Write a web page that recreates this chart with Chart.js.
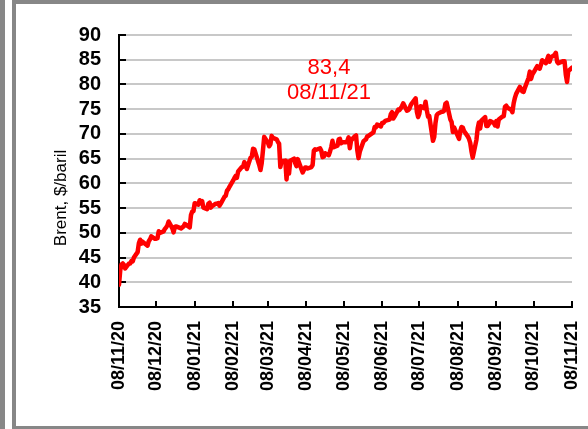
<!DOCTYPE html>
<html>
<head>
<meta charset="utf-8">
<script src="https://cdn.jsdelivr.net/npm/chart.js@4.4.0/dist/chart.umd.min.js"></script>
<style>
    html, body { margin: 0; padding: 0; background: #fff; }
    #wrap { position: relative; width: 588px; height: 429px; overflow: hidden; }
    .bar { position: absolute; background: #878787; }
    #brentCanvas { position: absolute; left: 0; top: 0; }
</style>
</head>
<body>
<div id="wrap">
    <div class="bar" style="left:0;top:0;width:5px;height:429px"></div>
    <div class="bar" style="left:12px;top:0;width:4px;height:429px"></div>
    <div class="bar" style="left:12px;top:0;width:576px;height:4px"></div>
    <div class="bar" style="left:12px;top:426px;width:576px;height:3px"></div>
    <canvas id="brentCanvas" width="588" height="429"></canvas>
</div>
<script>
// Brent daily close, $/baril
const tickLabels = ['08/11/20', '08/12/20', '08/01/21', '08/02/21', '08/03/21', '08/04/21', '08/05/21',
    '08/06/21', '08/07/21', '08/08/21', '08/09/21', '08/10/21', '08/11/21'];

const dates = [
    '08/11/20', '09/11/20', '10/11/20', '11/11/20', '12/11/20', '13/11/20', '16/11/20', '17/11/20', '18/11/20', '19/11/20',
    '20/11/20', '23/11/20', '24/11/20', '25/11/20', '26/11/20', '27/11/20', '30/11/20',
    '01/12/20', '02/12/20', '03/12/20', '04/12/20', '07/12/20', '08/12/20', '09/12/20', '10/12/20', '11/12/20', '14/12/20',
    '15/12/20', '16/12/20', '17/12/20', '18/12/20', '21/12/20', '22/12/20', '23/12/20', '24/12/20', '28/12/20', '29/12/20',
    '30/12/20', '31/12/20',
    '04/01/21', '05/01/21', '06/01/21', '07/01/21', '08/01/21', '11/01/21', '12/01/21', '13/01/21', '14/01/21', '15/01/21',
    '18/01/21', '19/01/21', '20/01/21', '21/01/21', '22/01/21', '25/01/21', '26/01/21', '27/01/21', '28/01/21', '29/01/21',
    '01/02/21', '02/02/21', '03/02/21', '04/02/21', '05/02/21', '08/02/21', '09/02/21', '10/02/21', '11/02/21', '12/02/21',
    '15/02/21', '16/02/21', '17/02/21', '18/02/21', '19/02/21', '22/02/21', '23/02/21', '24/02/21', '25/02/21', '26/02/21',
    '01/03/21', '02/03/21', '03/03/21', '04/03/21', '05/03/21', '08/03/21', '09/03/21', '10/03/21', '11/03/21', '12/03/21',
    '15/03/21', '16/03/21', '17/03/21', '18/03/21', '19/03/21', '22/03/21', '23/03/21', '24/03/21', '25/03/21', '26/03/21',
    '29/03/21', '30/03/21', '31/03/21',
    '01/04/21', '05/04/21', '06/04/21', '07/04/21', '08/04/21', '09/04/21', '12/04/21', '13/04/21', '14/04/21', '15/04/21',
    '16/04/21', '19/04/21', '20/04/21', '21/04/21', '22/04/21', '23/04/21', '26/04/21', '27/04/21', '28/04/21', '29/04/21',
    '30/04/21',
    '03/05/21', '04/05/21', '05/05/21', '06/05/21', '07/05/21', '10/05/21', '11/05/21', '12/05/21', '13/05/21', '14/05/21',
    '17/05/21', '18/05/21', '19/05/21', '20/05/21', '21/05/21', '24/05/21', '25/05/21', '26/05/21', '27/05/21', '28/05/21',
    '01/06/21', '02/06/21', '03/06/21', '04/06/21', '07/06/21', '08/06/21', '09/06/21', '10/06/21', '11/06/21', '14/06/21',
    '15/06/21', '16/06/21', '17/06/21', '18/06/21', '21/06/21', '22/06/21', '23/06/21', '24/06/21', '25/06/21', '28/06/21',
    '29/06/21', '30/06/21',
    '01/07/21', '02/07/21', '05/07/21', '06/07/21', '07/07/21', '08/07/21', '09/07/21', '12/07/21', '13/07/21', '14/07/21',
    '15/07/21', '16/07/21', '19/07/21', '20/07/21', '21/07/21', '22/07/21', '23/07/21', '26/07/21', '27/07/21', '28/07/21',
    '29/07/21', '30/07/21',
    '02/08/21', '03/08/21', '04/08/21', '05/08/21', '06/08/21', '09/08/21', '10/08/21', '11/08/21', '12/08/21', '13/08/21',
    '16/08/21', '17/08/21', '18/08/21', '19/08/21', '20/08/21', '23/08/21', '24/08/21', '25/08/21', '26/08/21', '27/08/21',
    '30/08/21', '31/08/21',
    '01/09/21', '02/09/21', '03/09/21', '06/09/21', '07/09/21', '08/09/21', '09/09/21', '10/09/21', '13/09/21', '14/09/21',
    '15/09/21', '16/09/21', '17/09/21', '20/09/21', '21/09/21', '22/09/21', '23/09/21', '24/09/21', '27/09/21', '28/09/21',
    '29/09/21', '30/09/21',
    '01/10/21', '04/10/21', '05/10/21', '06/10/21', '07/10/21', '08/10/21', '11/10/21', '12/10/21', '13/10/21', '14/10/21',
    '15/10/21', '18/10/21', '19/10/21', '20/10/21', '21/10/21', '22/10/21', '25/10/21', '26/10/21', '27/10/21', '28/10/21',
    '29/10/21',
    '01/11/21', '02/11/21', '03/11/21', '04/11/21', '05/11/21', '08/11/21'
];

const brent = [
    39.5, 42.4, 43.6, 43.8, 43.5, 42.8, 43.8, 43.8, 44.3, 44.2,
    45.0, 46.1, 47.9, 48.6, 47.8, 48.2, 47.6,
    47.4, 48.3, 48.7, 49.3, 48.8, 48.8, 48.9, 50.3, 50.0, 50.3,
    50.8, 51.1, 51.5, 52.3, 50.9, 50.1, 51.2, 51.3, 50.9, 51.1,
    51.3, 51.8,
    51.1, 53.6, 54.3, 54.4, 56.0, 55.7, 56.6, 56.1, 56.4, 55.1,
    54.8, 55.9, 56.1, 55.1, 55.4, 55.9, 55.9, 56.0, 55.5, 55.9,
    57.3, 57.5, 58.5, 58.8, 59.3, 60.6, 61.1, 61.5, 61.1, 62.4,
    63.3, 63.4, 64.3, 63.9, 62.9, 65.2, 65.4, 67.0, 66.9, 66.1,
    63.7, 62.7, 64.1, 66.7, 69.4, 68.2, 67.5, 67.9, 69.6, 69.2,
    68.9, 68.4, 68.0, 63.3, 64.5, 64.6, 60.8, 64.4, 62.0, 64.6,
    65.0, 64.1, 63.5,
    64.9, 62.2, 62.7, 63.2, 63.2, 63.0, 63.3, 63.7, 66.6, 66.9,
    66.8, 67.1, 66.6, 65.3, 65.4, 66.1, 65.7, 66.4, 67.3, 68.6,
    67.3,
    67.6, 68.9, 69.0, 68.1, 68.3, 68.3, 68.6, 69.3, 67.1, 68.7,
    69.5, 69.7, 66.7, 65.1, 66.4, 68.5, 68.7, 68.9, 69.5, 69.6,
    70.3, 71.4, 71.3, 71.9, 71.5, 72.2, 72.2, 72.5, 72.7, 72.9,
    74.0, 74.4, 73.1, 73.5, 74.9, 74.8, 75.2, 75.6, 76.2, 74.7,
    74.8, 75.1,
    75.8, 76.2, 77.2, 74.5, 73.4, 74.1, 75.6, 75.2, 76.5, 74.8,
    73.5, 73.6, 68.6, 69.4, 72.2, 73.8, 74.1, 74.5, 74.5, 74.7,
    76.1, 76.3,
    72.9, 72.4, 70.4, 71.3, 70.7, 69.0, 70.6, 71.4, 71.3, 70.6,
    69.5, 69.0, 68.2, 66.5, 65.2, 68.8, 71.1, 72.3, 71.1, 72.7,
    73.4, 71.6,
    71.6, 72.0, 72.6, 72.2, 71.7, 72.6, 71.5, 72.9, 73.5, 73.6,
    75.5, 75.7, 75.3, 74.9, 74.4, 76.2, 77.3, 78.1, 79.5, 79.1,
    78.6, 78.5,
    79.3, 81.3, 82.6, 81.1, 82.0, 82.4, 83.7, 83.4, 83.2, 84.0,
    84.9, 84.3, 85.1, 85.8, 84.6, 85.5, 86.0, 86.4, 84.6, 84.3,
    84.4,
    84.7, 84.7, 82.0, 80.5, 82.7, 83.4
];

const yTicks = [35, 40, 45, 50, 55, 60, 65, 70, 75, 80, 85, 90];

const FONT = "'Liberation Sans', Arial, sans-serif";

// days since the first tick label
const toDay = (s) => {
    const [d, m, y] = s.split('/').map(Number);
    const [d0, m0, y0] = tickLabels[0].split('/').map(Number);
    return Math.round((Date.UTC(2000 + y, m - 1, d) - Date.UTC(2000 + y0, m0 - 1, d0)) / 86400000);
};

const tickDays = tickLabels.map(toDay);

// inner tick marks, drawn under the line
const innerTicks = {
    id: 'innerTicks',
    beforeDatasetsDraw: (chart) => {
        const { ctx, chartArea, scales } = chart;
        ctx.save();
        ctx.strokeStyle = '#000';
        ctx.lineWidth = 2;
        ctx.beginPath();
        yTicks.forEach(v => {
            const y = Math.round(scales.y.getPixelForValue(v));
            ctx.moveTo(chartArea.left, y);
            ctx.lineTo(chartArea.left + 7, y);
        });
        tickDays.forEach(v => {
            const x = Math.round(scales.x.getPixelForValue(v));
            ctx.moveTo(x, chartArea.bottom);
            ctx.lineTo(x, chartArea.bottom - 6);
        });
        ctx.stroke();
        ctx.restore();
    }
};

// y title and last value note
const labelsPlugin = {
    id: 'labelsPlugin',
    afterDraw: (chart) => {
        const { ctx } = chart;
        ctx.save();
        ctx.fillStyle = '#000';
        ctx.font = `17px ${FONT}`;
        ctx.textAlign = 'center';
        ctx.textBaseline = 'middle';
        ctx.translate(61, 198);
        ctx.rotate(-Math.PI / 2);
        ctx.fillText('Brent, $/baril', 0, 0);
        ctx.restore();

        const last = brent[brent.length - 1].toFixed(1).replace('.', ',');
        ctx.save();
        ctx.fillStyle = '#ff0000';
        ctx.font = `22px ${FONT}`;
        ctx.textAlign = 'center';
        ctx.textBaseline = 'alphabetic';
        ctx.fillText(last, 329, 74);
        ctx.fillText(dates[dates.length - 1], 329, 99);
        ctx.restore();
    }
};

const points = dates.map((d, i) => ({ x: toDay(d), y: brent[i] }));

new Chart(document.getElementById('brentCanvas'), {
    type: 'line',
    data: {
        datasets: [{
            data: points,
            borderColor: '#ff0000',
            borderWidth: 4.5,
            borderJoinStyle: 'round',
            borderCapStyle: 'round',
            pointRadius: 0,
            tension: 0,
            fill: false
        }]
    },
    options: {
        responsive: false,
        animation: false,
        devicePixelRatio: 1,
        layout: { padding: { top: 35, right: 16, left: 0, bottom: 0 } },
        plugins: {
            legend: { display: false },
            tooltip: { enabled: false }
        },
        scales: {
            x: {
                type: 'linear',
                min: tickDays[0],
                max: tickDays[tickDays.length - 1],
                afterBuildTicks: (scale) => {
                    scale.ticks = tickDays.map(v => ({ value: v }));
                },
                afterFit: (scale) => {
                    scale.height = 122;
                    scale.paddingLeft = 0;
                    scale.paddingRight = 0;
                },
                grid: { display: false, drawTicks: false },
                border: { display: true, color: '#000', width: 2 },
                ticks: {
                    autoSkip: false,
                    maxRotation: 90,
                    minRotation: 90,
                    padding: 14,
                    color: '#000',
                    font: { family: FONT, size: 18, weight: 'bold' },
                    callback: (value) => tickLabels[tickDays.indexOf(value)] || ''
                }
            },
            y: {
                min: 35,
                max: 90,
                afterBuildTicks: (scale) => {
                    scale.ticks = yTicks.map(v => ({ value: v }));
                },
                afterFit: (scale) => {
                    scale.width = 119;
                    scale.paddingTop = 0;
                    scale.paddingBottom = 0;
                },
                grid: {
                    drawTicks: false,
                    lineWidth: 2,
                    color: (ctx) => (ctx.tick && ctx.tick.value === 35 ? 'rgba(0,0,0,0)' : '#c8c8c8')
                },
                border: { display: true, color: '#000', width: 2 },
                ticks: {
                    autoSkip: false,
                    padding: 18,
                    color: '#000',
                    font: { family: FONT, size: 20, weight: 'bold' }
                }
            }
        }
    },
    plugins: [innerTicks, labelsPlugin]
});
</script>
</body>
</html>
